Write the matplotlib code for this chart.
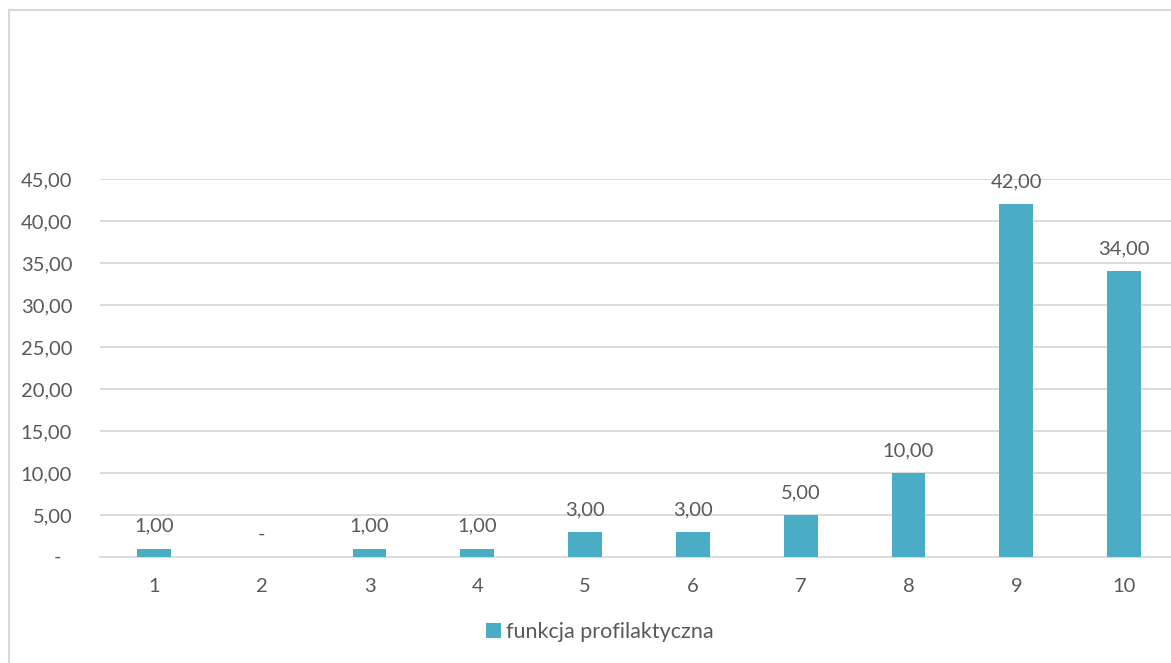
import matplotlib.pyplot as plt
from matplotlib.lines import Line2D
from matplotlib.ticker import FuncFormatter

# data
categories = ['1', '2', '3', '4', '5', '6', '7', '8', '9', '10']
values = [1, 0, 1, 1, 3, 3, 5, 10, 42, 34]
series_name = 'funkcja profilaktyczna'
yticks = [0, 5, 10, 15, 20, 25, 30, 35, 40, 45]

bar_color = '#4BACC6'
text_color = '#595959'
grid_color = '#D9D9D9'
fs = 14.5

plt.rcParams['font.family'] = ['Lato', 'DejaVu Sans']

fig = plt.figure(figsize=(11.71, 6.63), dpi=100)
ax = fig.add_axes([0.0854, 0.1599, 0.9206, 0.5702])

x = list(range(len(categories)))
bars = ax.bar(x, values, width=0.315, color=bar_color, label=series_name, zorder=3)

ax.set_xlim(-0.5, len(categories) - 0.5)
ax.set_ylim(0, 45)
ax.set_yticks(yticks)
ax.set_xticks(x)
ax.set_xticklabels(categories)

def fmt(v, pos):
    if v == 0:
        return ''
    return f'{v:.2f}'.replace('.', ',')

ax.yaxis.set_major_formatter(FuncFormatter(fmt))
# zero shown as a dash, like Excel accounting format
ax.text(-0.036, 0, '-', transform=ax.get_yaxis_transform(), ha='right', va='center',
        fontsize=fs, color=text_color)

ax.grid(axis='y', color=grid_color, linewidth=1.3, zorder=0)
for s in ['top', 'right', 'left']:
    ax.spines[s].set_visible(False)
ax.spines['bottom'].set_color(grid_color)
ax.spines['bottom'].set_linewidth(1.3)
ax.tick_params(axis='y', length=0, pad=20, labelsize=fs, labelcolor=text_color)
ax.tick_params(axis='x', length=0, pad=15, labelsize=fs, labelcolor=text_color)

for xi, v in zip(x, values):
    label = '-' if v == 0 else f'{v:.2f}'.replace('.', ',')
    ax.annotate(label, (xi, v), xytext=(0, 10), textcoords='offset points',
                ha='center', va='bottom', fontsize=fs, color=text_color)

leg = fig.legend(loc='center', bbox_to_anchor=(0.512, 0.047), frameon=False,
                 fontsize=15.5, labelcolor=text_color, handlelength=0.7,
                 handleheight=0.7, handletextpad=0.25)

# chart border (left and top edges visible)
fig.add_artist(Line2D([0.0075, 0.0075], [0, 0.985], color='#D9D9D9', linewidth=1.5,
                      transform=fig.transFigure))
fig.add_artist(Line2D([0.0075, 1], [0.985, 0.985], color='#D9D9D9', linewidth=1.5,
                      transform=fig.transFigure))

fig.savefig('out.png', dpi=100)
